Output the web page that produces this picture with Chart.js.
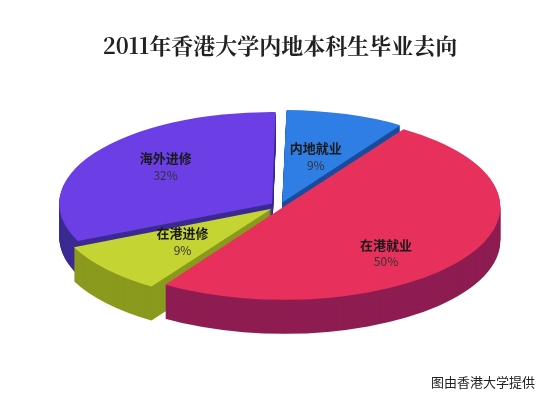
<!DOCTYPE html>
<html><head><meta charset="utf-8">
<script src="https://cdn.jsdelivr.net/npm/chart.js@4"></script>
<style>html,body{margin:0;background:#fff}#w{width:550px;height:403px;position:relative}</style>
</head><body><div id="w"><canvas id="c"></canvas></div>
<script>
const categories=['内地就业','在港就业','在港进修','海外进修'];
const values=[9,50,9,32];
const colors=['#2f7ee6','#e8305c','#c4d432','#6b3ee6'];
const sideColors=['#1b4c9c','#8e1d52','#8a9a1e','#3b2a92'];
const offsets=[30,18,44,38];
const SY=0.43, DEPTH=34;
function cen(chart){const a=chart.getDatasetMeta(0).data[0];return {x:a.x,y:a.y};}
const pie3d={id:'pie3d',
 beforeDatasetsDraw(chart){const ctx=chart.ctx,c=cen(chart),arcs=chart.getDatasetMeta(0).data;
  ctx.save();ctx.translate(c.x,c.y);ctx.scale(1,SY);ctx.translate(-c.x,-c.y);
  for(let d=DEPTH;d>0;d-=1){ctx.save();ctx.translate(0,d/SY);
   arcs.forEach((a,i)=>{const o=a.options.backgroundColor,b=a.options.borderWidth;a.options.backgroundColor=sideColors[i];a.options.borderWidth=0;a.draw(ctx);a.options.backgroundColor=o;a.options.borderWidth=b;});
   ctx.restore();}
 },
 afterDatasetsDraw(chart){const ctx=chart.ctx,c=cen(chart);ctx.restore();
  const arcs=chart.getDatasetMeta(0).data;
  ctx.save();ctx.textAlign='center';ctx.textBaseline='middle';
  arcs.forEach((a,i)=>{const p=a.tooltipPosition();let x=p.x,y=c.y+(p.y-c.y)*SY;
   if(i==1){x+=10;y+=20;} if(i==3){x-=10;y-=10;}
   ctx.fillStyle='#1a1a1a';ctx.font='bold 13px "Noto Sans CJK SC"';ctx.fillText(categories[i],x,y-8);
   ctx.font='12px "Noto Sans CJK SC"';ctx.fillStyle='#333';ctx.fillText(values[i]+'%',x,y+9);});
  ctx.font='13px "Noto Sans CJK SC"';ctx.fillStyle='#222';ctx.textAlign='right';ctx.fillText('图由香港大学提供',535,382);
  ctx.restore();}
};
new Chart(document.getElementById('c'),{type:'pie',
 data:{labels:categories,datasets:[{data:values,backgroundColor:colors,borderWidth:0,offset:offsets,radius:212,clip:false}]},
 options:{responsive:true,maintainAspectRatio:false,animation:false,rotation:1,
  layout:{padding:{top:0,bottom:60,left:10}},
  plugins:{legend:{display:false},tooltip:{enabled:false},
   title:{display:true,text:'2011年香港大学内地本科生毕业去向',font:{size:22,weight:'bold',family:'"Noto Serif CJK SC","Noto Sans CJK SC"'},color:'#222',padding:{top:32,bottom:10}}}},
 plugins:[pie3d]});
</script></body></html>
